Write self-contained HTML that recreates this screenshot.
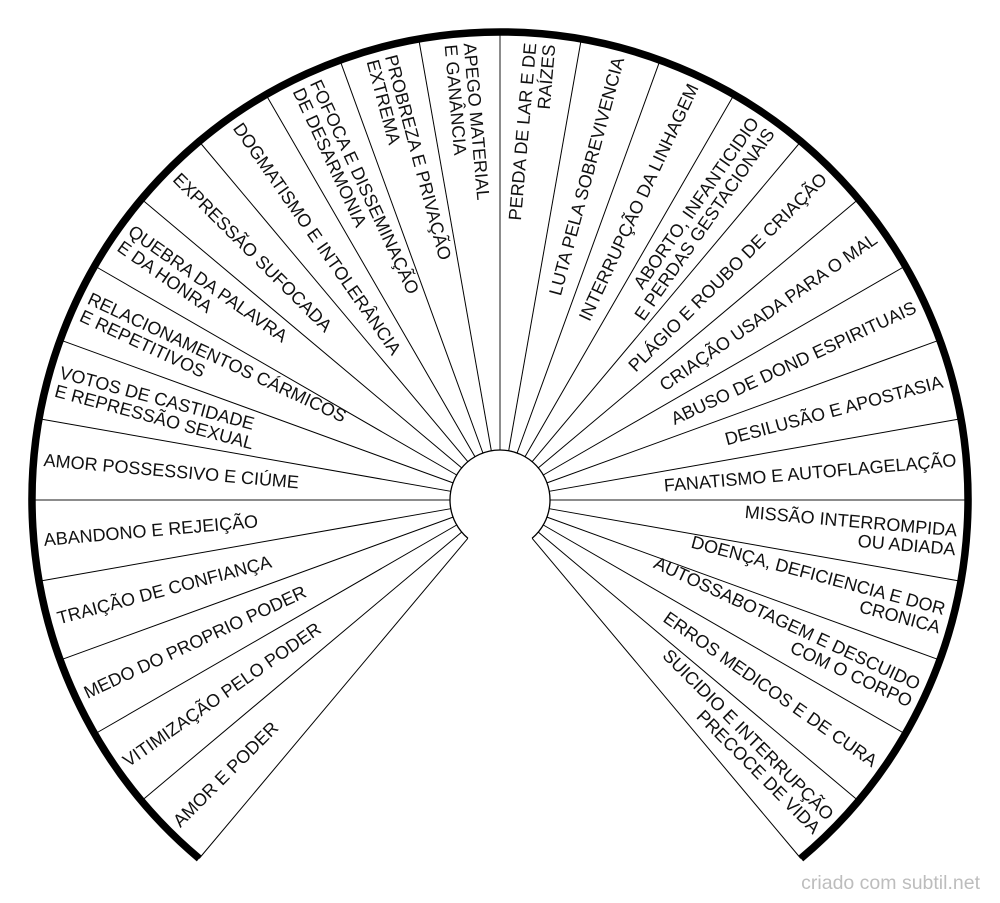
<!DOCTYPE html>
<html><head><meta charset="utf-8"><style>
html,body{margin:0;padding:0;background:#fff;}
svg{display:block;}
text{font-family:"Liberation Sans",Arial,sans-serif;font-size:18px;fill:#111;dominant-baseline:central;}
.l text{text-anchor:start;}
.r text{text-anchor:end;}
</style></head><body>
<svg width="1000" height="903" viewBox="0 0 1000 903" xmlns="http://www.w3.org/2000/svg">
<g stroke="#000" stroke-width="1" fill="none">
<g transform="translate(500,500)">
<line x1="50" x2="468" transform="rotate(50)"/>
<line x1="50" x2="468" transform="rotate(40)"/>
<line x1="50" x2="468" transform="rotate(30)"/>
<line x1="50" x2="468" transform="rotate(20)"/>
<line x1="50" x2="468" transform="rotate(10)"/>
<line x1="50" x2="468" transform="rotate(0)" stroke="#666" stroke-width="1.5"/>
<line x1="50" x2="468" transform="rotate(-10)"/>
<line x1="50" x2="468" transform="rotate(-20)"/>
<line x1="50" x2="468" transform="rotate(-30)"/>
<line x1="50" x2="468" transform="rotate(-40)"/>
<line x1="50" x2="468" transform="rotate(-50)"/>
<line x1="50" x2="468" transform="rotate(-60)"/>
<line x1="50" x2="468" transform="rotate(-70)"/>
<line x1="50" x2="468" transform="rotate(-80)"/>
<line x1="50" x2="468" transform="rotate(-90)" stroke="#666" stroke-width="1.5"/>
<line x1="50" x2="468" transform="rotate(-100)"/>
<line x1="50" x2="468" transform="rotate(-110)"/>
<line x1="50" x2="468" transform="rotate(-120)"/>
<line x1="50" x2="468" transform="rotate(-130)"/>
<line x1="50" x2="468" transform="rotate(-140)"/>
<line x1="50" x2="468" transform="rotate(-150)"/>
<line x1="50" x2="468" transform="rotate(-160)"/>
<line x1="50" x2="468" transform="rotate(-170)"/>
<line x1="50" x2="468" transform="rotate(-180)" stroke="#666" stroke-width="1.5"/>
<line x1="50" x2="468" transform="rotate(-190)"/>
<line x1="50" x2="468" transform="rotate(-200)"/>
<line x1="50" x2="468" transform="rotate(-210)"/>
<line x1="50" x2="468" transform="rotate(-220)"/>
<line x1="50" x2="468" transform="rotate(-230)"/>
</g>
<path d="M467.9 538.3 A50 50 0 1 1 532.1 538.3" stroke-width="1.3"/>
<path d="M199.2 858.5 A468 468 0 1 1 800.8 858.5" stroke-width="7.5"/>
</g>

<g transform="translate(500,500)">
<g class="l">
<text transform="rotate(-45)" x="-458">AMOR E PODER</text>
<text transform="rotate(-35)" x="-458">VITIMIZAÇÃO PELO PODER</text>
<text transform="rotate(-25)" x="-458">MEDO DO PROPRIO PODER</text>
<text transform="rotate(-15)" x="-458">TRAIÇÃO DE CONFIANÇA</text>
<text transform="rotate(-5)" x="-458">ABANDONO E REJEIÇÃO</text>
<text transform="rotate(5)" x="-458">AMOR POSSESSIVO E CIÚME</text>
<text transform="rotate(15)" x="-458" y="-9.5">VOTOS DE CASTIDADE</text>
<text transform="rotate(15)" x="-458" y="9.5">E REPRESSÃO SEXUAL</text>
<text transform="rotate(25)" x="-458" y="-9.5">RELACIONAMENTOS CÁRMICOS</text>
<text transform="rotate(25)" x="-458" y="9.5">E REPETITIVOS</text>
<text transform="rotate(35)" x="-458" y="-9.5">QUEBRA DA PALAVRA</text>
<text transform="rotate(35)" x="-458" y="9.5">E DA HONRA</text>
<text transform="rotate(45)" x="-458">EXPRESSÃO SUFOCADA</text>
<text transform="rotate(55)" x="-458">DOGMATISMO E INTOLERÂNCIA</text>
<text transform="rotate(65)" x="-458" y="-9.5">FOFOCA E DISSEMINAÇÃO</text>
<text transform="rotate(65)" x="-458" y="9.5">DE DESARMONIA</text>
<text transform="rotate(75)" x="-458" y="-9.5">PROBREZA E PRIVAÇÃO</text>
<text transform="rotate(75)" x="-458" y="9.5">EXTREMA</text>
<text transform="rotate(85)" x="-458" y="-9.5">APEGO MATERIAL</text>
<text transform="rotate(85)" x="-458" y="9.5">E GANÂNCIA</text>
</g>
<g class="r">
<text transform="rotate(-85)" x="458" y="-9.5">PERDA DE LAR E DE</text>
<text transform="rotate(-85)" x="458" y="9.5">RAÍZES</text>
<text transform="rotate(-75)" x="458">LUTA PELA SOBREVIVENCIA</text>
<text transform="rotate(-65)" x="458">INTERRUPÇÃO DA LINHAGEM</text>
<text transform="rotate(-55)" x="458" y="-9.5">ABORTO, INFANTICIDIO</text>
<text transform="rotate(-55)" x="458" y="9.5">E PERDAS GESTACIONAIS</text>
<text transform="rotate(-45)" x="458">PLÁGIO E ROUBO DE CRIAÇÃO</text>
<text transform="rotate(-35)" x="458">CRIAÇÃO USADA PARA O MAL</text>
<text transform="rotate(-25)" x="458">ABUSO DE DOND ESPIRITUAIS</text>
<text transform="rotate(-15)" x="458">DESILUSÃO E APOSTASIA</text>
<text transform="rotate(-5)" x="458">FANATISMO E AUTOFLAGELAÇÃO</text>
<text transform="rotate(5)" x="458" y="-9.5">MISSÃO INTERROMPIDA</text>
<text transform="rotate(5)" x="458" y="9.5">OU ADIADA</text>
<text transform="rotate(15)" x="458" y="-9.5">DOENÇA, DEFICIENCIA E DOR</text>
<text transform="rotate(15)" x="458" y="9.5">CRONICA</text>
<text transform="rotate(25)" x="458" y="-9.5">AUTOSSABOTAGEM E DESCUIDO</text>
<text transform="rotate(25)" x="458" y="9.5">COM O CORPO</text>
<text transform="rotate(35)" x="458">ERROS MEDICOS E DE CURA</text>
<text transform="rotate(45)" x="458" y="-9.5">SUICIDIO E INTERRUPÇÃO</text>
<text transform="rotate(45)" x="458" y="9.5">PRECOCE DE VIDA</text>
</g>
</g>
<text x="980" y="883" style="text-anchor:end;fill:#bdbdbd;font-size:19.5px;">criado com subtil.net</text>
</svg>
</body></html>
